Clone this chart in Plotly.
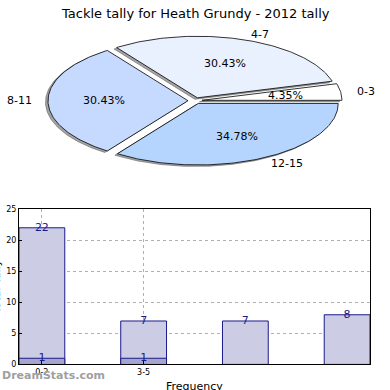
import math
import plotly.graph_objects as go

# ---- data ----
pie_labels = ["0-3", "4-7", "8-11", "12-15"]
pie_values = [1, 7, 7, 8]
pie_colors = ["#ffffff", "#eaf1fe", "#c6d9fe", "#b5d5fe"]

bar_positions = [0, 1, 2, 3]
bar_totals = [22, 7, 7, 8]
bar_inner = [1, 1, 0, 0]
tick_vals = [0, 1]
tick_text = ["0-2", "3-5"]
y_ticks = [0, 5, 10, 15, 20, 25]

W = H = 390
fig = go.Figure()

# ---- elliptical exploded pie (pixel space on xaxis2/yaxis2) ----
cx, cy, rx, ry = 195.0, 99.0, 140.0, 63.0
explode = 0.05
total = sum(pie_values)
start = 0.0
pie_text_ann = []
for lab, val, col in zip(pie_labels, pie_values, pie_colors):
    span = 360.0 * val / total
    a0, a1 = start, start + span
    mid = math.radians((a0 + a1) / 2)
    ox = cx + explode * rx * math.cos(mid)
    oy = cy - explode * ry * math.sin(mid)
    n = max(4, int(span))
    xs, ys = [ox], [oy]
    for i in range(n + 1):
        a = math.radians(a0 + (a1 - a0) * i / n)
        xs.append(ox + rx * math.cos(a))
        ys.append(oy - ry * math.sin(a))
    xs.append(ox); ys.append(oy)
    # shadow
    fig.add_trace(go.Scatter(x=[v - 2.5 for v in xs], y=[v + 1.5 for v in ys],
                             mode="lines", fill="toself",
                             fillcolor="rgba(90,90,90,0.55)",
                             line=dict(color="rgba(90,90,90,0.55)", width=1),
                             xaxis="x2", yaxis="y2", hoverinfo="skip", showlegend=False))
    fig.add_trace(go.Scatter(x=xs, y=ys, mode="lines", fill="toself",
                             fillcolor=col, line=dict(color="#000000", width=0.8),
                             xaxis="x2", yaxis="y2", hoverinfo="skip", showlegend=False))
    # labels
    lx = cx + 1.15 * rx * math.cos(mid)
    ly = cy - 1.15 * ry * math.sin(mid)
    pie_text_ann.append(dict(x=lx, y=ly, xref="x2", yref="y2", text=lab, showarrow=False,
                             xanchor="left" if math.cos(mid) > 0 else "right",
                             yanchor="middle", font=dict(size=11, color="#000000")))
    px_ = cx + 0.65 * rx * math.cos(mid)
    py_ = cy - 0.65 * ry * math.sin(mid)
    pie_text_ann.append(dict(x=px_, y=py_, xref="x2", yref="y2",
                             text="%.2f%%" % (100.0 * val / total), showarrow=False,
                             xanchor="center", yanchor="middle",
                             font=dict(size=11, color="#000000")))
    start = a1

# ---- bars ----
fig.add_trace(go.Bar(x=bar_positions, y=bar_totals, width=0.45,
                     marker=dict(color="#ccccE5", line=dict(color="#1a1a8c", width=1)),
                     xaxis="x", yaxis="y", hoverinfo="skip", showlegend=False))
fig.add_trace(go.Bar(x=bar_positions, y=bar_inner, width=0.45,
                     marker=dict(color="#a6a6cc", line=dict(color="#1a1a8c", width=1)),
                     xaxis="x", yaxis="y", hoverinfo="skip", showlegend=False))
fig.add_trace(go.Scatter(x=bar_positions, y=bar_totals, mode="text",
                         text=[str(v) for v in bar_totals], textposition="middle center",
                         textfont=dict(size=11, color="#1a1a8c"),
                         xaxis="x", yaxis="y", hoverinfo="skip", showlegend=False))
inner_x = [p for p, v in zip(bar_positions, bar_inner) if v > 0]
inner_y = [v for v in bar_inner if v > 0]
fig.add_trace(go.Scatter(x=inner_x, y=inner_y, mode="text",
                         text=[str(v) for v in inner_y], textposition="middle center",
                         textfont=dict(size=11, color="#1a1a8c"),
                         xaxis="x", yaxis="y", hoverinfo="skip", showlegend=False))

annotations = pie_text_ann + [
    dict(x=0.5, y=1 - 10 / H, xref="paper", yref="paper", text="Tackle tally for Heath Grundy - 2012 tally",
         showarrow=False, xanchor="center", yanchor="middle",
         font=dict(size=13, color="#000000")),
    dict(x=194.5 / W, y=1 - 383 / H, xref="paper", yref="paper", text="Frequency",
         showarrow=False, xanchor="center", yanchor="top", font=dict(size=11, color="#000000")),
    dict(x=-4 / W, y=1 - 290 / H, xref="paper", yref="paper", text="Total Tally",
         showarrow=False, textangle=-90, xanchor="center", yanchor="middle",
         font=dict(size=11, color="#000000")),
    dict(x=0, y=1 - 380 / H, xref="paper", yref="paper", text="<b>DreamStats.com</b>",
         showarrow=False, xanchor="left", yanchor="middle",
         font=dict(size=11, color="#a0a0a0", family="DejaVu Sans")),
]

fig.update_layout(
    width=W, height=H, margin=dict(l=0, r=0, t=0, b=0),
    paper_bgcolor="white", plot_bgcolor="rgba(0,0,0,0)",
    font=dict(family="DejaVu Sans", color="#000000"),
    barmode="overlay", showlegend=False,
    xaxis=dict(domain=[19 / W, 370 / W], range=[-0.225, 3.225],
               tickmode="array", tickvals=tick_vals, ticktext=tick_text,
               tickfont=dict(size=8), ticks="inside", ticklen=3, tickcolor="#000",
               showline=True, mirror=True, linecolor="#000", linewidth=1,
               showgrid=True, gridcolor="#b0b0b0", griddash="dot", gridwidth=1,
               zeroline=False, fixedrange=True),
    yaxis=dict(domain=[1 - 369 / H, 1 - 210 / H], range=[0, 25],
               tickmode="array", tickvals=y_ticks, tickfont=dict(size=8),
               ticks="inside", ticklen=3, tickcolor="#000",
               showline=True, mirror=True, linecolor="#000", linewidth=1,
               showgrid=True, gridcolor="#b0b0b0", griddash="dot", gridwidth=1,
               zeroline=False, fixedrange=True),
    xaxis2=dict(domain=[0, 1], range=[0, W], visible=False, fixedrange=True),
    yaxis2=dict(domain=[0, 1], range=[H, 0], visible=False, fixedrange=True),
    annotations=annotations,
)

fig.write_html("out.html", config={"displayModeBar": False},
               post_script="document.body.style.margin='0';document.body.style.overflow='hidden';")
